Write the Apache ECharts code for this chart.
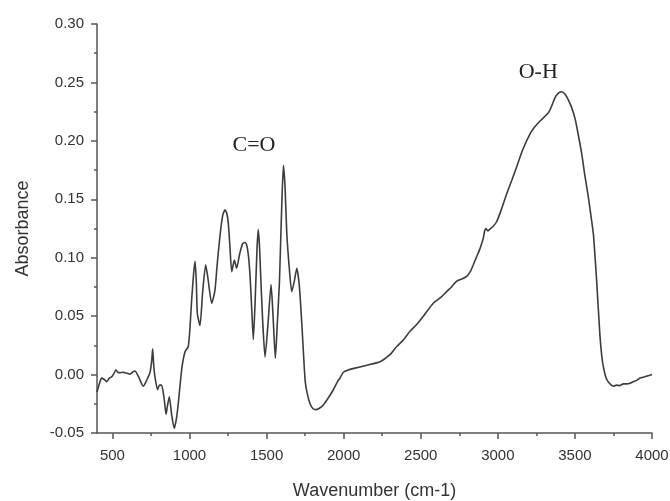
<!DOCTYPE html>
<html>
<head>
<meta charset="utf-8">
<script src="https://cdn.jsdelivr.net/npm/echarts@6/dist/echarts.min.js"></script>
<style>html,body{margin:0;padding:0;background:#fff;}#c{width:670px;height:501px;}</style>
</head>
<body>
<div id="c"></div>
<script>
var wavenumber = [400,415,430,445,463,480,495,510,523,535,549,565,582,600,614,630,646,670,700,725,744,755,761,768,776,793,805,819,835,848,858,869,885,901,915,927,950,971,992,1003,1014,1027,1036,1044,1051,1068,1085,1105,1120,1144,1165,1180,1198,1215,1230,1242,1252,1262,1274,1291,1306,1325,1345,1360,1371,1382,1393,1404,1414,1425,1438,1446,1454,1462,1475,1490,1510,1529,1542,1557,1570,1583,1595,1609,1620,1631,1648,1663,1680,1696,1713,1730,1750,1765,1782,1800,1819,1840,1868,1900,1933,1960,1976,1998,2030,2073,2150,2236,2300,2344,2390,2430,2475,2517,2581,2630,2668,2700,2733,2770,2798,2825,2841,2863,2885,2906,2915,2923,2935,2945,2970,2993,3025,3058,3090,3123,3160,3209,3240,3274,3328,3350,3371,3395,3414,3435,3457,3480,3501,3522,3544,3565,3587,3605,3620,3641,3663,3675,3684,3700,3715,3728,3749,3770,3790,3814,3835,3857,3880,3900,3922,3950,3975,4000];
var absorbance = [-0.015,-0.008,-0.003,-0.004,-0.006,-0.003,-0.002,0.001,0.004,0.002,0.0015,0.002,0.0015,0.001,0.0004,0.002,0.003,-0.002,-0.010,-0.004,0.002,0.012,0.022,0.008,-0.002,-0.013,-0.009,-0.009,-0.020,-0.034,-0.026,-0.019,-0.035,-0.046,-0.038,-0.025,0.005,0.0195,0.024,0.040,0.064,0.087,0.097,0.080,0.052,0.042,0.070,0.094,0.082,0.061,0.072,0.095,0.119,0.136,0.141,0.138,0.129,0.110,0.088,0.098,0.091,0.103,0.112,0.113,0.111,0.102,0.084,0.055,0.030,0.060,0.108,0.124,0.110,0.084,0.045,0.015,0.045,0.077,0.050,0.014,0.045,0.078,0.130,0.179,0.160,0.121,0.090,0.071,0.080,0.091,0.075,0.040,-0.005,-0.017,-0.025,-0.029,-0.030,-0.029,-0.026,-0.020,-0.013,-0.006,-0.003,0.002,0.004,0.0055,0.008,0.011,0.017,0.024,0.030,0.037,0.043,0.050,0.061,0.066,0.071,0.075,0.080,0.082,0.084,0.089,0.094,0.101,0.108,0.117,0.123,0.125,0.123,0.124,0.127,0.131,0.142,0.155,0.166,0.178,0.192,0.206,0.212,0.217,0.224,0.230,0.237,0.241,0.242,0.240,0.235,0.228,0.219,0.205,0.189,0.170,0.152,0.135,0.120,0.080,0.032,0.015,0.007,-0.002,-0.006,-0.008,-0.010,-0.009,-0.0095,-0.008,-0.008,-0.0075,-0.006,-0.005,-0.003,-0.002,-0.001,0.000];
var xMajorTicks = [500,1000,1500,2000,2500,3000,3500,4000];
var xMinorTicks = [750,1250,1750,2250,2750,3250,3750];
var annotationText = ['C=O','O-H'];
var annotationWavenumber = [1418,3262];
var annotationAbsorbance = [0.196,0.259];

var data = wavenumber.map(function(w,i){return [w, absorbance[i]];});
var axisColor = '#555';
var labelStyle = {fontFamily:'Liberation Sans, Arial, sans-serif', fontSize:15, color:'#333'};

var chart = echarts.init(document.getElementById('c'), null, {renderer:'canvas'});
chart.setOption({
  animation:false,
  backgroundColor:'#ffffff',
  grid:{left:97,right:18,top:24,bottom:68,containLabel:false,outerBoundsMode:'none'},
  xAxis:[{
    type:'value', min:400, max:4000, position:'bottom',
    name:'Wavenumber (cm-1)', nameLocation:'middle', nameGap:49,
    nameTextStyle:{fontFamily:'Liberation Sans, Arial, sans-serif', fontSize:18, color:'#333'},
    axisLine:{show:true, onZero:false, lineStyle:{color:axisColor, width:1.5}},
    axisTick:{show:true, customValues:xMajorTicks, length:6, inside:false, lineStyle:{color:axisColor, width:1.5}},
    axisLabel:Object.assign({customValues:xMajorTicks, margin:15, formatter:function(v){return String(v);}}, labelStyle),
    splitLine:{show:false}
  },{
    type:'value', min:400, max:4000, position:'bottom', gridIndex:0,
    axisLine:{show:false, onZero:false},
    axisTick:{show:true, customValues:xMinorTicks, length:3, inside:false, lineStyle:{color:axisColor, width:1.5}},
    axisLabel:{show:false},
    splitLine:{show:false}
  }],
  yAxis:{
    type:'value', min:-0.05, max:0.30, interval:0.05,
    name:'Absorbance', nameLocation:'middle', nameGap:65, nameRotate:90,
    nameTextStyle:{fontFamily:'Liberation Sans, Arial, sans-serif', fontSize:18, color:'#333'},
    axisLine:{show:true, onZero:false, lineStyle:{color:axisColor, width:1.5}},
    axisTick:{show:true, length:6, inside:false, lineStyle:{color:axisColor, width:1.5}},
    minorTick:{show:true, splitNumber:2, length:3, lineStyle:{color:axisColor, width:1.5}},
    axisLabel:Object.assign({margin:13, formatter:function(v){return v.toFixed(2);}}, labelStyle),
    splitLine:{show:false}
  },
  series:[{
    type:'line', xAxisIndex:0, data:data, showSymbol:false, smooth:0.2,
    lineStyle:{color:'#3c3c3c', width:1.6},
    markPoint:{
      symbol:'circle', symbolSize:0, silent:true,
      label:{show:true, position:'inside', fontFamily:'Liberation Serif, Times New Roman, serif', fontSize:22, color:'#222',
        formatter:function(p){return p.name;}},
      data:annotationText.map(function(t,i){return {name:t, coord:[annotationWavenumber[i], annotationAbsorbance[i]]};})
    }
  }]
});
</script>
</body>
</html>
